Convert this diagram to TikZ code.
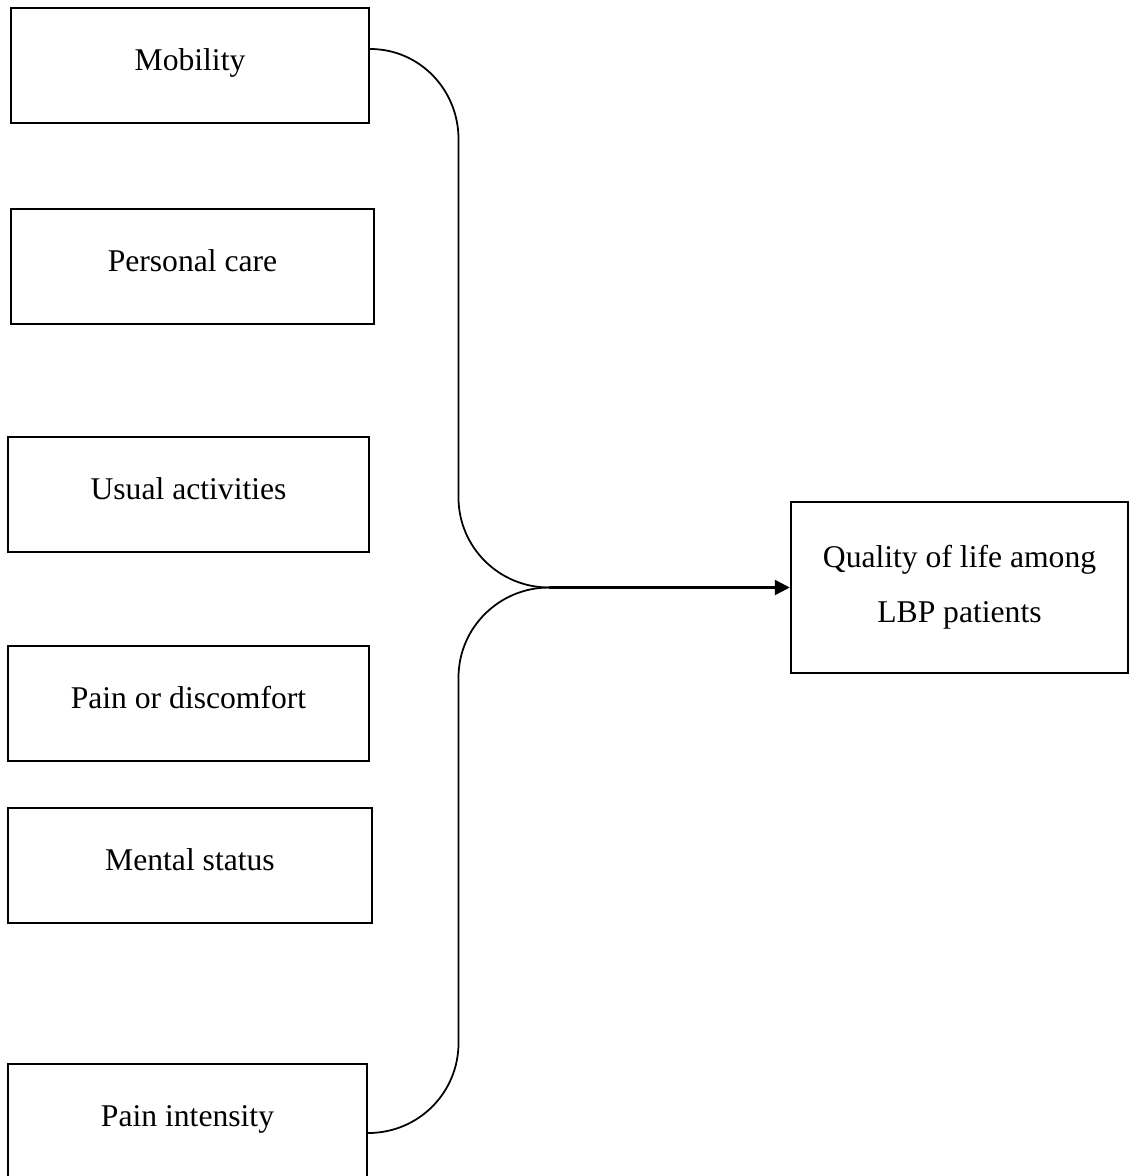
\documentclass[tikz,border=0pt]{standalone}
\usepackage{fontspec}
\setmainfont{Liberation Serif}
\usepackage{tikz}
\usetikzlibrary{positioning}
\usetikzlibrary{arrows.meta}

\begin{document}
\begin{tikzpicture}
                [box/.style = {draw, line width=1.4pt, inner sep=0pt, text height=1.24cm, text depth=1.06cm, font=\fontsize{18}{31}\selectfont},
                 box1/.style = {draw, line width=1.4pt, inner sep=0pt, minimum width=6.74cm, minimum height=3.42cm, align=center, font=\fontsize{18}{31.3}\selectfont},
                 link/.style = {line width=1pt}]
                \useasboundingbox (0,0) rectangle (22.58,-23.52);
                % Factors on the left
                \node[box, minimum width=7.16cm] (mob) at (3.80,-1.31) {Mobility};
                \node[box, minimum width=7.26cm] (care) at (3.85,-5.33) {Personal care};
                \node[box, minimum width=7.22cm] (usual) at (3.77,-9.89) {Usual activities};
                \node[box, minimum width=7.22cm] (pain) at (3.77,-14.07) {Pain or discomfort};
                \node[box, minimum width=7.28cm] (mental) at (3.80,-17.31) {Mental status};
                \node[box, minimum width=7.18cm] (intens) at (3.75,-22.43) {Pain intensity};
                % Outcome
                \node[box1] (qol) at (19.19,-11.75) {Quality of life among\\LBP patients};
                % Brace points
                \coordinate (join) at (10.98,-11.75);
                \coordinate (b1) at (9.17,-2.78);
                \coordinate (b2) at (9.17,-9.95);
                \coordinate (b3) at (9.17,-13.55);
                \coordinate (b4) at (9.17,-20.86);
                % Lines
                \draw[link] ([yshift=0.33cm]mob.east) to[out=0,in=90] (b1) -- (b2) to[out=-90,in=180] (join);
                \draw[link] (join) to[out=180,in=90] (b3) -- (b4) to[out=-90,in=0] ([yshift=-0.23cm]intens.east);
                \path[line width=1.4pt, -{Triangle[length=0.3cm, width=0.3cm]}] (join) edge (qol.west);
            \end{tikzpicture}
\end{document}
